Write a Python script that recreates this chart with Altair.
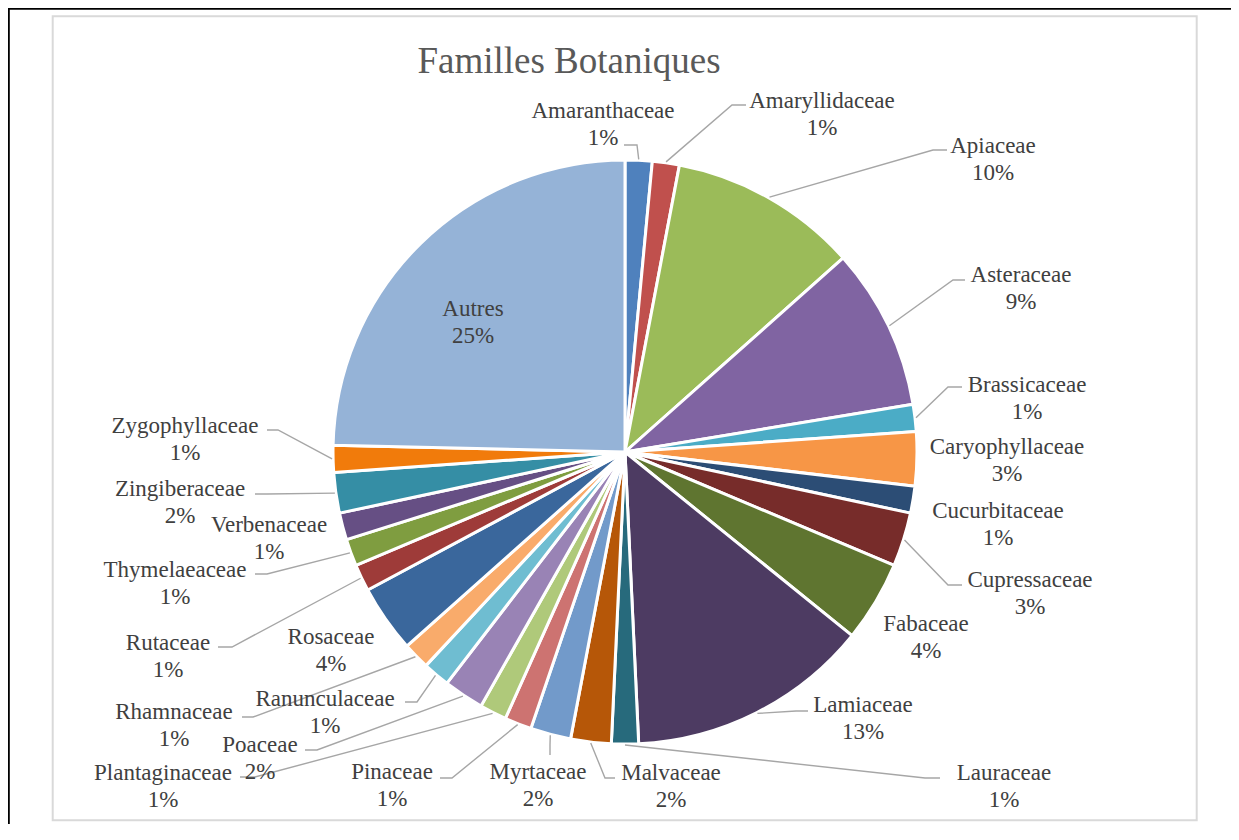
import math
import altair as alt
import pandas as pd

# ---------------- data ----------------
families = [
    "Amaranthaceae", "Amaryllidaceae", "Apiaceae", "Asteraceae", "Brassicaceae",
    "Caryophyllaceae", "Cucurbitaceae", "Cupressaceae", "Fabaceae", "Lamiaceae",
    "Lauraceae", "Malvaceae", "Myrtaceae", "Pinaceae", "Plantaginaceae",
    "Poaceae", "Ranunculaceae", "Rhamnaceae", "Rosaceae", "Rutaceae",
    "Thymelaeaceae", "Verbenaceae", "Zingiberaceae", "Zygophyllaceae", "Autres",
]
counts = [2, 2, 14, 12, 2, 4, 2, 4, 6, 18, 2, 3, 3, 2, 2, 3, 2, 2, 5, 2, 2, 2, 3, 2, 33]

colors = [
    "#4F81BD", "#C0504D", "#9BBB59", "#8064A2", "#4BACC6",
    "#F79646", "#2C4D75", "#772C2A", "#5F7530", "#4D3B62",
    "#276A7C", "#B65708", "#729ACA", "#CD7371", "#AFC97A",
    "#9983B5", "#6FBDD1", "#F9AB6B", "#3A679C", "#9E3B39",
    "#7F9D40", "#664F84", "#358EA5", "#F17B0B", "#95B3D7",
]

title_text = "Familles Botaniques"

# ---------------- layout (page pixels) ----------------
CX, CY, R = 625, 452, 292          # pie centre and radius
W, H = 1223, 816                    # drawing area, starts at page (8, 8)
FONT = "Liberation Serif"

# label anchor: (centre x, baseline of first line)
label_pos = {
    "Amaranthaceae": (603, 118), "Amaryllidaceae": (822, 108), "Apiaceae": (993, 153),
    "Asteraceae": (1021, 282), "Brassicaceae": (1027, 392), "Caryophyllaceae": (1007, 454),
    "Cucurbitaceae": (998, 518), "Cupressaceae": (1030, 587), "Fabaceae": (926, 631),
    "Lamiaceae": (863, 712), "Lauraceae": (1004, 780), "Malvaceae": (671, 780),
    "Myrtaceae": (538, 779), "Pinaceae": (392, 779), "Plantaginaceae": (163, 780),
    "Poaceae": (260, 752), "Ranunculaceae": (325, 706), "Rhamnaceae": (174, 719),
    "Rosaceae": (331, 644), "Rutaceae": (168, 650), "Thymelaeaceae": (175, 577),
    "Verbenaceae": (269, 532), "Zingiberaceae": (180, 496), "Zygophyllaceae": (185, 433),
    "Autres": (473, 316),
}
# leader lines: (elbow, end at label)
leader_pos = {
    "Amaranthaceae": ((637, 145), (624, 145)),
    "Amaryllidaceae": ((732, 105), (746, 105)),
    "Apiaceae": ((933, 150), (947, 150)),
    "Asteraceae": ((953, 280), (965, 280)),
    "Brassicaceae": ((948, 387), (962, 387)),
    "Cupressaceae": ((948, 585), (962, 585)),
    "Lamiaceae": ((796, 711), (808, 711)),
    "Lauraceae": ((925, 778), (940, 778)),
    "Malvaceae": ((605, 778), (615, 778)),
    "Myrtaceae": ((550, 745), (550, 755)),
    "Pinaceae": ((452, 778), (440, 778)),
    "Plantaginaceae": ((255, 777), (240, 777)),
    "Poaceae": ((317, 750), (305, 750)),
    "Ranunculaceae": ((417, 702), (405, 702)),
    "Rhamnaceae": ((253, 717), (242, 717)),
    "Rutaceae": ((232, 647), (218, 647)),
    "Thymelaeaceae": ((267, 574), (255, 574)),
    "Zingiberaceae": ((267, 494), (255, 494)),
    "Zygophyllaceae": ((278, 430), (267, 430)),
}

# ---------------- tables ----------------
total = sum(counts)
pie = pd.DataFrame({"name": families, "count": counts, "idx": range(len(families))})
pie["label"] = [f"{n}\n{round(c / total * 100)}%" for n, c in zip(families, counts)]

lab = pie.copy()
lab["x"] = [label_pos[n][0] for n in families]
lab["y"] = [label_pos[n][1] for n in families]

rows = []
cum = 0
for n, c in zip(families, counts):
    mid = (cum + c / 2) / total * 2 * math.pi
    cum += c
    if n not in leader_pos:
        continue
    sx = CX + (R + 1) * math.sin(mid)
    sy = CY - (R + 1) * math.cos(mid)
    (bx, by), (ex, ey) = leader_pos[n]
    rows += [
        {"name": n, "k": 0, "x": sx, "y": sy},
        {"name": n, "k": 1, "x": bx, "y": by},
        {"name": n, "k": 2, "x": ex, "y": ey},
    ]
lead = pd.DataFrame(rows)

xs = alt.Scale(domain=[8, 8 + W], nice=False, zero=False)
ys = alt.Scale(domain=[8, 8 + H], nice=False, zero=False, reverse=True)

arcs = alt.Chart(pie).mark_arc(
    outerRadius=R, stroke="white", strokeWidth=3, strokeJoin="round"
).encode(
    theta=alt.Theta("count:Q", stack=True),
    order=alt.Order("idx:Q"),
    color=alt.Color("name:N", scale=alt.Scale(domain=families, range=colors), legend=None),
    x=alt.XDatum(CX, scale=xs, axis=None),
    y=alt.YDatum(CY, scale=ys, axis=None),
)

lines = alt.Chart(lead).mark_line(color="#A6A6A6", strokeWidth=1.4).encode(
    x=alt.X("x:Q", scale=xs, axis=None),
    y=alt.Y("y:Q", scale=ys, axis=None),
    detail="name:N",
    order="k:Q",
)

labels = alt.Chart(lab).mark_text(
    font=FONT, fontSize=23, color="#404040", align="center", baseline="alphabetic",
    lineBreak="\n", lineHeight=27,
).encode(
    x=alt.X("x:Q", scale=xs, axis=None),
    y=alt.Y("y:Q", scale=ys, axis=None),
    text="label:N",
)

title = alt.Chart(pd.DataFrame({"t": [title_text]})).mark_text(
    font=FONT, fontSize=37, color="#595959", align="center", baseline="alphabetic",
).encode(
    x=alt.XDatum(569, scale=xs, axis=None),
    y=alt.YDatum(73, scale=ys, axis=None),
    text="t:N",
)

frame = alt.Chart(pd.DataFrame({"a": [0]})).mark_rect(
    filled=False, stroke="#D9D9D9", strokeWidth=2
).encode(
    x=alt.XDatum(52.7, scale=xs, axis=None),
    x2=alt.X2Datum(1196.7),
    y=alt.YDatum(16.3, scale=ys, axis=None),
    y2=alt.Y2Datum(820.3),
)

edge_left = alt.Chart(pd.DataFrame({"a": [0]})).mark_rule(color="black", strokeWidth=2).encode(
    x=alt.XDatum(8.8, scale=xs, axis=None),
    y=alt.YDatum(8, scale=ys, axis=None),
    y2=alt.Y2Datum(8 + H),
)
edge_top = alt.Chart(pd.DataFrame({"a": [0]})).mark_rule(color="black", strokeWidth=2).encode(
    y=alt.YDatum(8.8, scale=ys, axis=None),
    x=alt.XDatum(8, scale=xs, axis=None),
    x2=alt.X2Datum(8 + W),
)

chart = alt.layer(frame, edge_left, edge_top, arcs, lines, labels, title).properties(
    width=W, height=H, padding=0, autosize=alt.AutoSizeParams(type="none"),
    background="white",
).configure_view(strokeWidth=0)

chart.save("out.html", embed_options={"renderer": "svg", "actions": False})
